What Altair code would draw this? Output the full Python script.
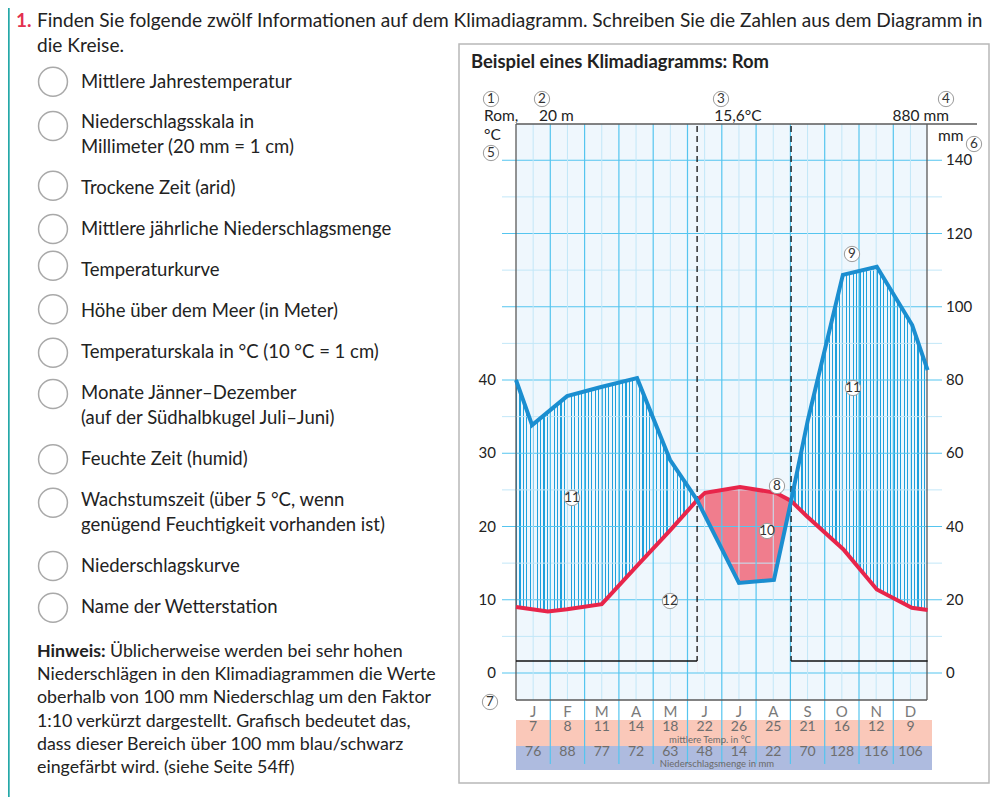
import altair as alt
import pandas as pd

# ---------------- data ----------------
months = ["J", "F", "M", "A", "M", "J", "J", "A", "S", "O", "N", "D"]
temp_table = [7, 8, 11, 14, 18, 22, 26, 25, 21, 16, 12, 9]
precip_table = [76, 88, 77, 72, 63, 48, 14, 22, 70, 128, 116, 106]

# temperature curve as drawn (position in months from 1 Jan, degC)
temp_pos = [0.0, 0.93, 1.49, 2.50, 3.52, 4.50, 5.28, 5.51, 6.53, 7.58, 8.02, 8.48, 9.54, 10.52, 11.54, 12.0]
temp_val = [9.0, 8.4, 8.7, 9.4, 14.6, 19.5, 23.6, 24.6, 25.4, 24.6, 23.5, 21.4, 16.9, 11.4, 8.9, 8.6]
# precipitation curve as drawn (position in months, mm)
prec_pos = [0.0, 0.47, 1.49, 2.48, 3.53, 4.49, 5.28, 6.50, 7.52, 8.02, 8.51, 9.53, 10.52, 11.55, 12.0]
prec_val = [80.0, 67.7, 75.6, 78.1, 80.5, 58.2, 47.2, 24.6, 25.4, 47.0, 69.1, 108.7, 110.9, 95.0, 82.7]

arid_from = 5.28
arid_to = 8.02

temp_labels = [0, 10, 20, 30, 40]
prec_labels = [0, 20, 40, 60, 80, 100, 120, 140]
grid_major = [0, 10, 20, 30, 40, 50, 60, 70]
grid_minor = [5, 15, 25, 35, 45, 55, 65]

station = "Rom,"
altitude = "20 m"
mean_temp = "15,6°C"
annual_prec = "880 mm"

# ---------------- layout ----------------
OX, OY = 8, 8
W, H = 982, 789
M0 = 516 - OX
MW = 34.3
T0 = 673 - OY
TU = 7.325
XS = alt.Scale(domain=[-M0 / MW, (W - M0) / MW], nice=False, zero=False)
YS = alt.Scale(domain=[(T0 - H) / TU, T0 / TU], nice=False, zero=False)
FONT = "Lato"

BOX = "#eff7fd"
BLUE = "#1b8ed0"
HATCH = "#1ea0dc"
RED = "#e8254a"
PINK = "#f07d8d"
GRID = "#55c5ef"
GRID_L = "#c2e7f8"


def P(v):
    return v - OX


def Q(v):
    return v - OY


def xs(field):
    return alt.X(field, type="quantitative", scale=XS, axis=None)


def ys(field):
    return alt.Y(field, type="quantitative", scale=YS, axis=None)


def texts(rows, size, color="#222", weight="normal", align="left"):
    df = pd.DataFrame(rows, columns=["x", "y", "text"])
    df["x"] = df["x"] - OX
    df["y"] = df["y"] - OY
    return alt.Chart(df).mark_text(
        align=align, baseline="middle", fontSize=size, color=color,
        fontWeight=weight, font=FONT
    ).encode(
        x=alt.X("x:Q", scale=None, axis=None),
        y=alt.Y("y:Q", scale=None, axis=None),
        text="text:N",
    )


def rects(rows, **kw):
    df = pd.DataFrame(rows, columns=["x", "x2", "y", "y2"])
    for c in ["x", "x2"]:
        df[c] = df[c] - OX
    for c in ["y", "y2"]:
        df[c] = df[c] - OY
    return alt.Chart(df).mark_rect(**kw).encode(
        x=alt.X("x:Q", scale=None, axis=None), x2="x2:Q",
        y=alt.Y("y:Q", scale=None, axis=None), y2="y2:Q",
    )


def rules(rows, **kw):
    df = pd.DataFrame(rows, columns=["x", "x2", "y", "y2"])
    for c in ["x", "x2"]:
        df[c] = df[c] - OX
    for c in ["y", "y2"]:
        df[c] = df[c] - OY
    return alt.Chart(df).mark_rule(**kw).encode(
        x=alt.X("x:Q", scale=None, axis=None), x2="x2:Q",
        y=alt.Y("y:Q", scale=None, axis=None), y2="y2:Q",
    )


def hatch(width_px, period=3.43, line=1.2):
    n = int(round(width_px / period))
    stops = []
    for i in range(n):
        a = i / n
        b = (i + line / period) / n
        stops += [
            {"offset": a, "color": BOX}, {"offset": a, "color": HATCH},
            {"offset": b, "color": HATCH}, {"offset": b, "color": BOX},
        ]
    stops.append({"offset": 1, "color": BOX})
    return {"gradient": "linear", "x1": 0, "x2": 1, "y1": 0, "y2": 0, "stops": stops}


temp_df = pd.DataFrame({"m": temp_pos, "t": temp_val})
prec_df = pd.DataFrame({"m": prec_pos, "mm": prec_val})
eps = 1e-6

tbase = alt.Chart(temp_df)
pbase = alt.Chart(prec_df).transform_calculate(t="datum.mm / 2")

layers = []

# page frame and teal margin line
layers.append(rects([(459, 989, 44, 783)], fillOpacity=0, stroke="#b8b8b8", strokeWidth=1.5))
layers.append(rules([(8.8, 8.8, 0, 805)], color="#25a8a8", strokeWidth=1.8))

# chart box fill and table bands
layers.append(rects([(516, 927, 124, 700)], color=BOX))
layers.append(rects([(516, 932, 720, 746)], color="#fac8b9"))
layers.append(rects([(516, 932, 746, 770)], color="#aebbdf"))

# humid hatching (between temp curve and precipitation curve)
layers.append(pbase.transform_filter(f"datum.m <= {arid_from + eps}").mark_area(
    color=hatch(arid_from * MW)).encode(x=xs("m"), y=ys("t"), y2=alt.datum(0)))
layers.append(pbase.transform_filter(f"datum.m >= {arid_to - eps}").mark_area(
    color=hatch((12 - arid_to) * MW)).encode(x=xs("m"), y=ys("t"), y2=alt.datum(0)))
# arid area
layers.append(tbase.transform_filter(
    f"datum.m >= {arid_from - eps} && datum.m <= {arid_to + eps}").mark_area(
    color=PINK).encode(x=xs("m"), y=ys("t"), y2=alt.datum(0)))
# masks below the lower curve
layers.append(tbase.transform_filter(f"datum.m <= {arid_from + eps}").mark_area(
    color=BOX).encode(x=xs("m"), y=ys("t"), y2=alt.datum(0)))
layers.append(tbase.transform_filter(f"datum.m >= {arid_to - eps}").mark_area(
    color=BOX).encode(x=xs("m"), y=ys("t"), y2=alt.datum(0)))
layers.append(pbase.transform_filter(
    f"datum.m >= {arid_from - eps} && datum.m <= {arid_to + eps}").mark_area(
    color=BOX).encode(x=xs("m"), y=ys("t"), y2=alt.datum(0)))

# grid lines
layers.append(alt.Chart(pd.DataFrame({"t": grid_minor})).mark_rule(color=GRID_L, strokeWidth=1).encode(
    y=ys("t"), x=alt.value(P(502)), x2=alt.value(P(942))))
layers.append(alt.Chart(pd.DataFrame({"t": grid_major})).mark_rule(color=GRID, strokeWidth=1.2).encode(
    y=ys("t"), x=alt.value(P(502)), x2=alt.value(P(942))))
layers.append(alt.Chart(pd.DataFrame({"m": [i + 0.5 for i in range(12)]})).mark_rule(
    color=GRID_L, strokeWidth=1).encode(x=xs("m"), y=alt.value(Q(124)), y2=alt.value(Q(700))))
layers.append(alt.Chart(pd.DataFrame({"m": list(range(1, 12))})).mark_rule(
    color=GRID, strokeWidth=1.2).encode(x=xs("m"), y=alt.value(Q(124)), y2=alt.value(Q(764))))

# box border and header line
layers.append(rules([(516, 516, 124, 700), (927, 927, 124, 700), (516, 927, 700, 700),
                     (516, 977, 124, 124)], color="#5a5a5a", strokeWidth=1.3))

# arid boundaries and humid bars
layers.append(alt.Chart(pd.DataFrame({"m": [arid_from, arid_to]})).mark_rule(
    color="#111", strokeWidth=1.3, strokeDash=[6, 4]).encode(
    x=xs("m"), y=alt.value(Q(126)), y2=alt.value(Q(661))))
layers.append(alt.Chart(pd.DataFrame({"m": [0, arid_to], "m2": [arid_from, 12]})).mark_rule(
    color="#111", strokeWidth=1.4).encode(x=xs("m"), x2="m2:Q", y=alt.value(Q(661))))

# curves
layers.append(tbase.mark_line(color=RED, strokeWidth=4).encode(x=xs("m"), y=ys("t")))
layers.append(pbase.mark_line(color=BLUE, strokeWidth=4).encode(x=xs("m"), y=ys("t")))

# axis labels
layers.append(alt.Chart(pd.DataFrame({"t": temp_labels})).mark_text(
    align="right", baseline="middle", fontSize=15, color="#222", font=FONT).encode(
    y=ys("t"), x=alt.value(P(496)), text="t:Q"))
layers.append(alt.Chart(pd.DataFrame({"mm": prec_labels})).transform_calculate(
    t="datum.mm / 2").mark_text(
    align="left", baseline="middle", fontSize=15, color="#222", font=FONT).encode(
    y=ys("t"), x=alt.value(P(946)), text="mm:Q"))

# month letters and table values
mdf = pd.DataFrame({"m": [i + 0.5 for i in range(12)], "mon": months,
                    "tt": temp_table, "pp": precip_table})
layers.append(alt.Chart(mdf).mark_text(baseline="middle", fontSize=15, color="#7a7a7a", font=FONT).encode(
    x=xs("m"), y=alt.value(Q(712)), text="mon:N"))
layers.append(alt.Chart(mdf).mark_text(baseline="middle", fontSize=14, color="#6e6e6e", font=FONT).encode(
    x=xs("m"), y=alt.value(Q(727)), text="tt:Q"))
layers.append(alt.Chart(mdf).mark_text(baseline="middle", fontSize=14, color="#6e6e6e", font=FONT).encode(
    x=xs("m"), y=alt.value(Q(752)), text="pp:Q"))
layers.append(texts([(710, 740, "mittlere Temp. in °C"), (717, 764, "Niederschlagsmenge in mm")],
                    9.5, color="#6a6a6a", align="center"))

# header texts of the diagram
layers.append(texts([(471, 62, "Beispiel eines Klimadiagramms: Rom")], 18.4, weight="bold"))
layers.append(texts([(484, 116, station), (539, 116, altitude), (484, 135, "°C"), (938, 136, "mm")], 15.5))
layers.append(texts([(738, 116, mean_temp)], 15.5, align="center"))
layers.append(texts([(949, 116, annual_prec)], 15.5, align="right"))

# circles on the left list
item_circles = [81.7, 126, 185.7, 229, 265.7, 309.3, 352.7, 394, 459.3, 502.7, 566, 607.7]
cdf = pd.DataFrame({"x": [P(53)] * len(item_circles), "y": [Q(v) for v in item_circles]})
layers.append(alt.Chart(cdf).mark_point(shape="circle", filled=True, fill="white", stroke="#a9a9a9",
                                        strokeWidth=1.5, size=835, opacity=1).encode(
    x=alt.X("x:Q", scale=None, axis=None), y=alt.Y("y:Q", scale=None, axis=None)))

# small numbered circles
nums = [(491, 99, "1"), (542, 99, "2"), (721, 99, "3"), (946, 99, "4"), (491, 153, "5"),
        (974, 144, "6"), (490, 702, "7"), (777, 486, "8"), (852, 254, "9"), (767, 531, "10"),
        (572, 498, "11"), (853, 388, "11"), (670, 601, "12")]
ndf = pd.DataFrame(nums, columns=["x", "y", "text"])
ndf["x"] = ndf["x"] - OX
ndf["y"] = ndf["y"] - OY
layers.append(alt.Chart(ndf).mark_point(shape="circle", filled=True, fill="white", stroke="#9a9a9a",
                                        strokeWidth=1, size=235, opacity=1).encode(
    x=alt.X("x:Q", scale=None, axis=None), y=alt.Y("y:Q", scale=None, axis=None)))
layers.append(texts(nums, 13.5, color="#333", align="center"))

# left worksheet text
layers.append(texts([(16, 21, "1.")], 19, color="#e3304f", weight="bold"))
layers.append(texts([
    (37, 21, "Finden Sie folgende zwölf Informationen auf dem Klimadiagramm. Schreiben Sie die Zahlen aus dem Diagramm in"),
    (37, 46, "die Kreise."),
], 19.1))
layers.append(texts([
    (81, 82, "Mittlere Jahrestemperatur"),
    (81, 122, "Niederschlagsskala in"),
    (81, 147, "Millimeter (20 mm =  1 cm)"),
    (81, 188, "Trockene Zeit (arid)"),
    (81, 229, "Mittlere jährliche Niederschlagsmenge"),
    (81, 270, "Temperaturkurve"),
    (81, 311, "Höhe über dem Meer (in Meter)"),
    (81, 352, "Temperaturskala in °C (10 °C = 1 cm)"),
    (81, 393, "Monate Jänner–Dezember"),
    (81, 418, "(auf der Südhalbkugel Juli–Juni)"),
    (81, 459, "Feuchte Zeit (humid)"),
    (81, 500, "Wachstumszeit (über 5 °C, wenn"),
    (81, 525, "genügend Feuchtigkeit vorhanden ist)"),
    (81, 566, "Niederschlagskurve"),
    (81, 607, "Name der Wetterstation"),
], 18.5))
layers.append(texts([(37, 652, "Hinweis:")], 17.8, weight="bold"))
layers.append(texts([
    (110, 652, "Üblicherweise werden bei sehr hohen"),
    (37, 675, "Niederschlägen in den Klimadiagrammen die Werte"),
    (37, 698, "oberhalb von 100 mm Niederschlag um den Faktor"),
    (37, 722, "1:10 verkürzt dargestellt. Grafisch bedeutet das,"),
    (37, 745, "dass dieser Bereich über 100 mm blau/schwarz"),
    (37, 768, "eingefärbt wird. (siehe Seite 54ff)"),
], 17.8))

chart = alt.layer(*layers).properties(
    width=W, height=H, padding=0, autosize=alt.AutoSizeParams(type="none")
).configure_view(strokeWidth=0)

chart.save("out.html", embed_options={"renderer": "svg", "actions": False})
